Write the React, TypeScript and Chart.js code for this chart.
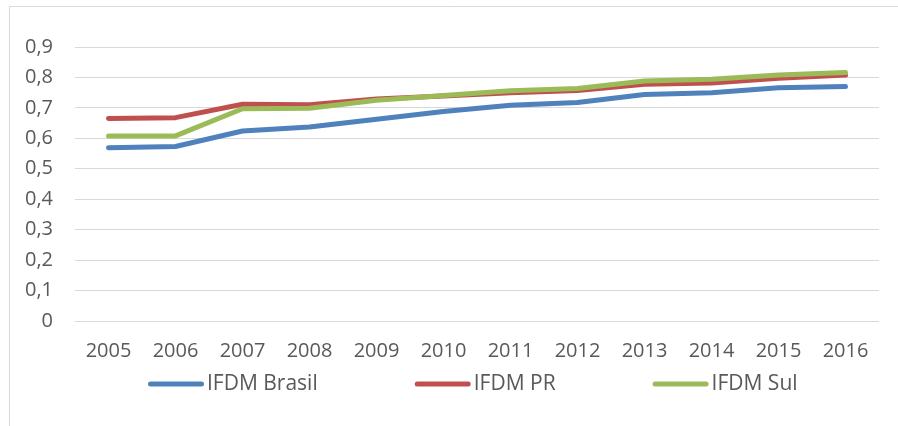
import React, { useEffect, useRef } from "react";
import { Chart, registerables } from "chart.js";

Chart.register(...registerables);

const years = ["2005", "2006", "2007", "2008", "2009", "2010", "2011", "2012", "2013", "2014", "2015", "2016"];
const ifdmBrasil = [0.569, 0.573, 0.624, 0.637, 0.663, 0.688, 0.709, 0.718, 0.744, 0.75, 0.766, 0.77];
const ifdmPR = [0.665, 0.668, 0.712, 0.71, 0.729, 0.739, 0.75, 0.757, 0.778, 0.782, 0.797, 0.808];
const ifdmSul = [0.608, 0.608, 0.697, 0.699, 0.725, 0.741, 0.756, 0.764, 0.788, 0.794, 0.808, 0.816];
const seriesNames = ["IFDM Brasil", "IFDM PR", "IFDM Sul"];
const seriesColors = ["#4f81bd", "#c0504d", "#9bbb59"];

const FONT = '"Open Sans", "Noto Sans", sans-serif';
const TEXT_COLOR = "#595959";
const GRID_COLOR = "#d9d9d9";

const framePlugin = {
  id: "frame",
  beforeDraw(chart: any) {
    const { ctx, width, height } = chart;
    ctx.save();
    ctx.fillStyle = "#ffffff";
    ctx.fillRect(0, 0, width, height);
    ctx.strokeStyle = GRID_COLOR;
    ctx.lineWidth = 1;
    ctx.beginPath();
    ctx.moveTo(9.5, height);
    ctx.lineTo(9.5, 6.5);
    ctx.lineTo(width, 6.5);
    ctx.stroke();
    ctx.restore();
  },
};

const legendPlugin = {
  id: "customLegend",
  afterDraw(chart: any) {
    const { ctx } = chart;
    const y = 384;
    let x = 148;
    ctx.save();
    ctx.font = `21px ${FONT}`;
    ctx.textBaseline = "middle";
    ctx.textAlign = "left";
    chart.data.datasets.forEach((ds: any) => {
      ctx.strokeStyle = ds.borderColor;
      ctx.lineWidth = 5;
      ctx.lineCap = "round";
      ctx.beginPath();
      ctx.moveTo(x + 2.5, y);
      ctx.lineTo(x + 53.5, y);
      ctx.stroke();
      ctx.fillStyle = TEXT_COLOR;
      const tx = x + 59;
      ctx.fillText(ds.label, tx, y);
      x = tx + ctx.measureText(ds.label).width + 97;
    });
    ctx.restore();
  },
};

export default function App() {
  const canvasRef = useRef<HTMLCanvasElement | null>(null);

  useEffect(() => {
    if (!canvasRef.current) return;
    const values = [ifdmBrasil, ifdmPR, ifdmSul];
    const chart = new Chart(canvasRef.current, {
      type: "line",
      data: {
        labels: years,
        datasets: values.map((v, i) => ({
          label: seriesNames[i],
          data: v,
          order: values.length - 1 - i,
          borderColor: seriesColors[i],
          backgroundColor: seriesColors[i],
          borderWidth: 5,
          borderCapStyle: "round",
          borderJoinStyle: "round",
          pointRadius: 0,
          pointHoverRadius: 0,
          tension: 0,
          fill: false,
        })),
      },
      options: {
        responsive: false,
        animation: false,
        layout: { padding: { left: 0, top: 47, right: 19, bottom: 0 } },
        plugins: {
          legend: { display: false },
          tooltip: { enabled: false },
        },
        scales: {
          x: {
            type: "category",
            offset: true,
            grid: { display: false, drawTicks: false, tickLength: 0 },
            border: { display: false },
            ticks: {
              color: TEXT_COLOR,
              font: { family: FONT, size: 20 },
              padding: 18,
              maxRotation: 0,
              autoSkip: false,
            },
            afterFit(scale: any) {
              scale.height = 105;
            },
          },
          y: {
            min: 0,
            max: 0.9,
            grid: { color: GRID_COLOR, lineWidth: 1, drawTicks: false, tickLength: 0 },
            border: { display: false },
            ticks: {
              stepSize: 0.1,
              color: TEXT_COLOR,
              font: { family: FONT, size: 20 },
              padding: 22,
              callback: (v: any) => {
                const n = Math.round(Number(v) * 10) / 10;
                return n === 0 ? "0" : n.toFixed(1).replace(".", ",");
              },
            },
            afterFit(scale: any) {
              scale.width = 75;
            },
          },
        },
      } as any,
      plugins: [framePlugin, legendPlugin],
    });
    return () => chart.destroy();
  }, []);

  return (
    <div style={{ position: "absolute", left: 0, top: 0, width: 898, height: 426 }}>
      <canvas ref={canvasRef} width={898} height={426} style={{ display: "block" }} />
    </div>
  );
}
